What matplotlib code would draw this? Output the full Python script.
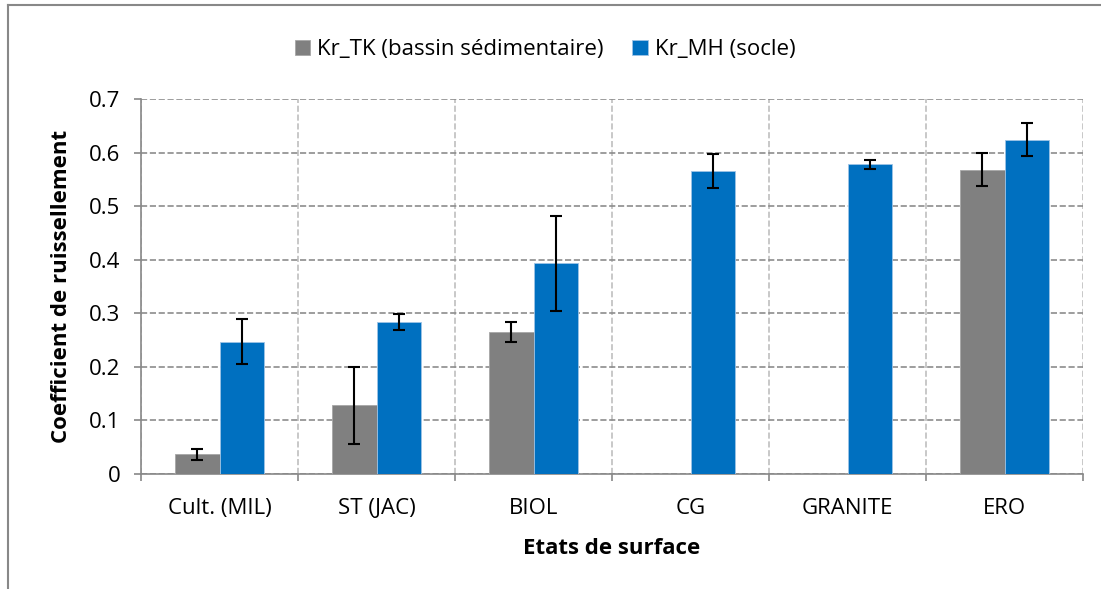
import numpy as np
import matplotlib.pyplot as plt
from matplotlib.lines import Line2D

plt.rcParams['font.family'] = ['Open Sans', 'DejaVu Sans']

# data
categories = ['Cult. (MIL)', 'ST (JAC)', 'BIOL', 'CG', 'GRANITE', 'ERO']
kr_tk = [0.037, 0.128, 0.265, np.nan, np.nan, 0.568]
kr_tk_err = [0.010, 0.072, 0.018, np.nan, np.nan, 0.031]
kr_mh = [0.247, 0.283, 0.393, 0.566, 0.578, 0.624]
kr_mh_err = [0.042, 0.015, 0.088, 0.032, 0.008, 0.031]

fig = plt.figure(figsize=(11.01, 5.89), dpi=100)
ax = fig.add_axes([141 / 1101, 1 - 474 / 589, 942 / 1101, 375 / 589])

fs = 16

x = np.arange(len(categories))
w = 0.285
ax.bar(x - w / 2, kr_tk, w, color='#808080', edgecolor='#a6a6a6', linewidth=0.6,
       label='Kr_TK (bassin sédimentaire)', zorder=3)
ax.bar(x + w / 2, kr_mh, w, color='#0070c0', edgecolor='#9dc3e6', linewidth=0.6,
       label='Kr_MH (socle)', zorder=3)
ax.errorbar(x - w / 2, kr_tk, yerr=kr_tk_err, fmt='none', ecolor='black',
            elinewidth=1.5, capsize=4.5, capthick=1.5, zorder=4)
ax.errorbar(x + w / 2, kr_mh, yerr=kr_mh_err, fmt='none', ecolor='black',
            elinewidth=1.5, capsize=4.5, capthick=1.5, zorder=4)

ax.set_xlim(-0.5, len(categories) - 0.5)
ax.set_ylim(0, 0.7)
ax.set_yticks(np.arange(0, 0.71, 0.1))
ax.set_yticklabels(['0', '0.1', '0.2', '0.3', '0.4', '0.5', '0.6', '0.7'])
ax.set_xticks(x)
ax.set_xticklabels(categories)
ax.set_xticks(np.arange(-0.5, len(categories), 1), minor=True)
ax.tick_params(axis='x', which='major', length=0, pad=17, labelsize=fs)
ax.tick_params(axis='x', which='minor', length=5, color='#888888', width=1.2)
ax.tick_params(axis='y', length=5, color='#888888', width=1.2, labelsize=fs, pad=10)

ax.grid(axis='y', which='major', linestyle='--', color='#8c8c8c', linewidth=1.2, zorder=0)
ax.grid(axis='x', which='minor', linestyle='--', color='#bfbfbf', linewidth=1.2, zorder=0)
for s in ['top', 'right']:
    ax.spines[s].set_visible(False)
for s in ['left', 'bottom']:
    ax.spines[s].set_color('#888888')
    ax.spines[s].set_linewidth(1.2)

ax.set_ylabel('Coefficient de ruissellement', fontsize=fs, fontweight='bold', labelpad=12)
ax.set_xlabel('Etats de surface', fontsize=fs, fontweight='bold', labelpad=14)

ax.legend(loc='lower center', bbox_to_anchor=(0.429, 1.05), ncol=2, frameon=False,
          fontsize=fs, handlelength=0.7, handleheight=0.7, handletextpad=0.3,
          columnspacing=1.3)

# outer chart frame (top and left edges visible)
fig.add_artist(Line2D([8 / 1101, 8 / 1101], [0, 1 - 5 / 589], color='#888888',
                      linewidth=1.5, transform=fig.transFigure))
fig.add_artist(Line2D([8 / 1101, 1], [1 - 5 / 589, 1 - 5 / 589], color='#888888',
                      linewidth=1.5, transform=fig.transFigure))

fig.savefig('out.png', dpi=100)
